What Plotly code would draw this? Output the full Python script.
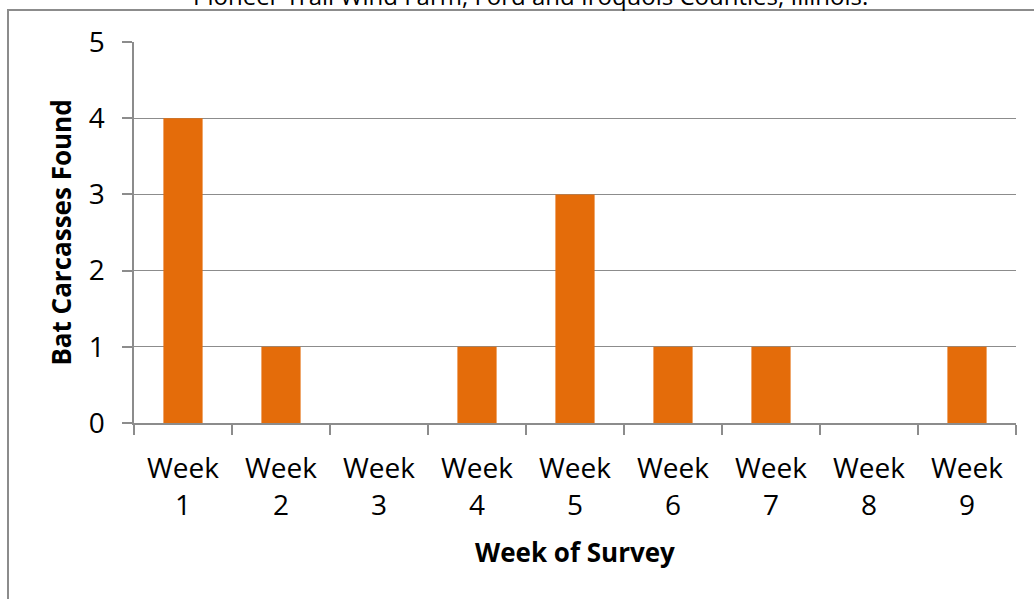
import plotly.graph_objects as go

weeks = ["Week<br>1", "Week<br>2", "Week<br>3", "Week<br>4", "Week<br>5",
         "Week<br>6", "Week<br>7", "Week<br>8", "Week<br>9"]
carcasses = [4, 1, 0, 1, 3, 1, 1, 0, 1]
y_ticks = [0, 1, 2, 3, 4, 5]

title_text = "Pioneer Trail Wind Farm, Ford and Iroquois Counties, Illinois."
x_title = "Week of Survey"
y_title = "Bat Carcasses Found"

W, H = 1034, 599
L, R, T, B = 134, 18, 42, 176
pw, ph = W - L - R, H - T - B

def px_x(x):
    return (x - L) / pw

def px_y(y):
    return (H - B - y) / ph

grey = "#8c8c8c"
font_main = "Open Sans"

fig = go.Figure(go.Bar(
    x=weeks, y=carcasses, marker=dict(color="#E46C0A", line=dict(width=0)),
    width=0.4,
))

fig.update_layout(
    width=W, height=H,
    margin=dict(l=L, r=R, t=T, b=B),
    paper_bgcolor="white", plot_bgcolor="white",
    showlegend=False,
    font=dict(family=font_main, color="black", size=28),
    bargap=0.6,
    xaxis=dict(
        showline=True, linecolor=grey, linewidth=1.5,
        ticks="outside", ticklen=10, tickcolor=grey, tickwidth=1.5,
        tickson="boundaries", showgrid=False,
        ticklabelstandoff=20,
        tickfont=dict(size=28, family=font_main),
        title=dict(text="<b>" + x_title + "</b>", font=dict(size=26, family=font_main), standoff=22),
        range=[-0.5, 8.5],
    ),
    yaxis=dict(
        range=[0, 5], tickvals=y_ticks,
        showline=True, linecolor=grey, linewidth=1.5,
        ticks="outside", ticklen=10, tickcolor=grey, tickwidth=1.5,
        showgrid=True, gridcolor=grey, gridwidth=1.3,
        zeroline=False,
        ticklabelstandoff=12,
        tickfont=dict(size=28, family=font_main),
        title=dict(text="<b>" + y_title + "</b>", font=dict(size=26, family=font_main), standoff=10),
    ),
    shapes=[dict(
        type="rect", xref="paper", yref="paper",
        x0=px_x(8), x1=px_x(W + 20), y0=px_y(H + 20), y1=px_y(10),
        line=dict(color=grey, width=2), fillcolor="rgba(0,0,0,0)", layer="below",
    )],
    annotations=[dict(
        text=title_text, xref="paper", yref="paper",
        x=px_x(530), y=px_y(-5), xanchor="center", yanchor="middle",
        showarrow=False, font=dict(size=24, family=font_main, color="black"),
    )],
)

fig.write_html("out.html")
